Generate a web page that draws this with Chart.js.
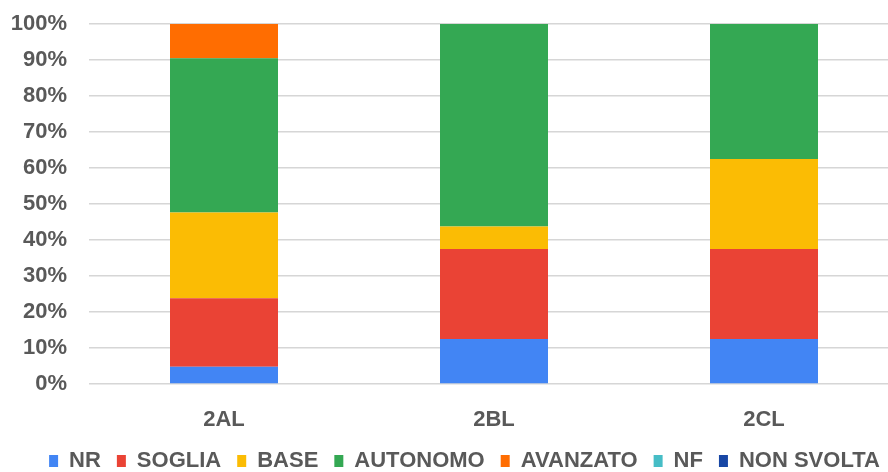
<!DOCTYPE html>
<html>
<head>
<meta charset="utf-8">
<script src="https://cdn.jsdelivr.net/npm/chart.js@4"></script>
<style>
  html, body { margin: 0; padding: 0; background: #fff; overflow: hidden; }
  #wrap { width: 888px; height: 472px; overflow: hidden; }
</style>
</head>
<body>
<div id="wrap"><canvas id="livelliChart" width="900" height="482"></canvas></div>
<script>
// classi e percentuali per livello
const classi = ["2AL", "2BL", "2CL"];

const nr        = [4.76, 12.5, 12.5];
const soglia    = [19.05, 25, 25];
const base      = [23.81, 6.25, 25];
const autonomo  = [42.86, 56.25, 37.5];
const avanzato  = [9.52, 0, 0];
const nf        = [0, 0, 0];
const nonSvolta = [0, 0, 0];

const yTicks = [0, 10, 20, 30, 40, 50, 60, 70, 80, 90, 100];

const grigio = "#595959";
Chart.defaults.font.family = "'Liberation Sans', Arial, sans-serif";

function serie(label, data, color) {
  return { label: label, data: data, backgroundColor: color, borderWidth: 0 };
}

// la legenda nell'originale e' un po' spostata a destra
const spostaLegenda = {
  id: "spostaLegenda",
  afterLayout(chart) {
    chart.legend.left += 10;
    chart.legend.right += 10;
  }
};

const ctx = document.getElementById("livelliChart").getContext("2d");

new Chart(ctx, {
  type: "bar",
  data: {
    labels: classi,
    datasets: [
      serie("NR", nr, "#4285f4"),
      serie("SOGLIA", soglia, "#ea4335"),
      serie("BASE", base, "#fbbc04"),
      serie("AUTONOMO", autonomo, "#34a853"),
      serie("AVANZATO", avanzato, "#ff6d01"),
      serie("NF", nf, "#46bdc6"),
      serie("NON SVOLTA", nonSvolta, "#1847a5")
    ]
  },
  plugins: [spostaLegenda],
  options: {
    responsive: false,
    animation: false,
    barPercentage: 0.4,
    categoryPercentage: 1.0,
    layout: { padding: { left: 10, right: 1, top: 24, bottom: 0 } },
    plugins: {
      tooltip: { enabled: false },
      legend: {
        position: "bottom",
        labels: {
          color: grigio,
          font: { size: 22, weight: "bold" },
          boxWidth: 9,
          boxHeight: 12,
          padding: 16
        }
      }
    },
    scales: {
      x: {
        stacked: true,
        grid: { display: false },
        border: { display: false },
        ticks: {
          color: grigio,
          font: { size: 22, weight: "bold" },
          padding: 15
        },
        afterFit: (s) => { s.height = 50; }
      },
      y: {
        stacked: true,
        min: 0,
        max: 100,
        afterBuildTicks: (s) => { s.ticks = yTicks.map(v => ({ value: v })); },
        grid: { color: "#d6d6d6", lineWidth: 1.5, drawTicks: false },
        border: { display: false },
        ticks: {
          color: grigio,
          font: { size: 22, weight: "bold" },
          padding: 22,
          callback: (v) => v + "%"
        },
        afterFit: (s) => {
          s.width = 79;
          s.paddingTop = 12;
          s.paddingBottom = 12;
        }
      }
    }
  }
});
</script>
</body>
</html>
